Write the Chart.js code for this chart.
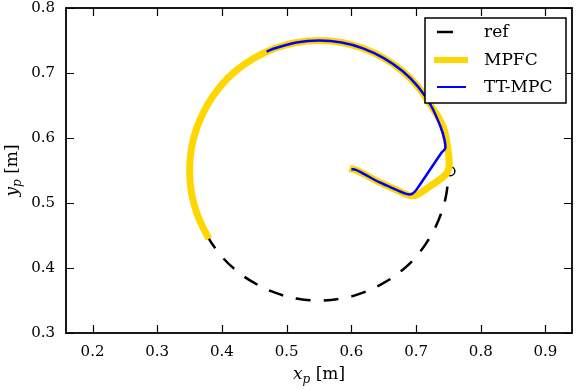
<!DOCTYPE html>
<html>
<head>
<meta charset="utf-8">
<script src="https://cdn.jsdelivr.net/npm/chart.js@4.4.0/dist/chart.umd.min.js"></script>
<style>
body { margin: 0; background: #fff; }
#wrap { width: 578px; height: 390px; }
</style>
</head>
<body>
<div id="wrap"><canvas id="traj"></canvas></div>
<script>
const xTicks = [0.2, 0.3, 0.4, 0.5, 0.6, 0.7, 0.8, 0.9];
const yTicks = [0.3, 0.4, 0.5, 0.6, 0.7, 0.8];
const labels = ['ref', 'MPFC', 'TT-MPC'];

// reference circle, read every 10 deg counter-clockwise from the start point
const refX = [0.750, 0.747, 0.738, 0.723, 0.703, 0.679, 0.650, 0.618, 0.585, 0.550, 0.515, 0.482, 0.450, 0.421, 0.397, 0.377, 0.362, 0.353, 0.350,
              0.353, 0.362, 0.377, 0.397, 0.421, 0.450, 0.482, 0.515, 0.550, 0.585, 0.618, 0.650, 0.679, 0.703, 0.723, 0.738, 0.747, 0.750];
const refY = [0.550, 0.585, 0.618, 0.650, 0.679, 0.703, 0.723, 0.738, 0.747, 0.750, 0.747, 0.738, 0.723, 0.703, 0.679, 0.650, 0.618, 0.585, 0.550,
              0.515, 0.482, 0.450, 0.421, 0.397, 0.377, 0.362, 0.353, 0.350, 0.353, 0.362, 0.377, 0.397, 0.421, 0.450, 0.482, 0.515, 0.550];

const mpfcX = [0.597, 0.606, 0.617, 0.643, 0.670, 0.688, 0.700, 0.722, 0.745, 0.751, 0.749, 0.742, 0.723, 0.703, 0.679, 0.650, 0.618, 0.585, 0.550,
               0.515, 0.482, 0.450, 0.421, 0.397, 0.377, 0.362, 0.353, 0.350, 0.353, 0.362, 0.377, 0.380];
const mpfcY = [0.553, 0.551, 0.546, 0.532, 0.520, 0.512, 0.512, 0.526, 0.543, 0.556, 0.584, 0.617, 0.650, 0.679, 0.703, 0.723, 0.738, 0.747, 0.750,
               0.747, 0.738, 0.723, 0.703, 0.679, 0.650, 0.618, 0.585, 0.550, 0.515, 0.482, 0.450, 0.445];

const ttX = [0.600, 0.607, 0.617, 0.643, 0.668, 0.685, 0.694, 0.701, 0.739, 0.745, 0.744, 0.738, 0.723, 0.703, 0.679, 0.650, 0.618, 0.585, 0.550, 0.515, 0.482, 0.469];
const ttY = [0.552, 0.551, 0.546, 0.532, 0.521, 0.514, 0.514, 0.521, 0.577, 0.584, 0.597, 0.617, 0.650, 0.679, 0.703, 0.723, 0.738, 0.747, 0.750, 0.747, 0.738, 0.733];

const startX = [0.753];
const startY = [0.549];

const toPts = (xs, ys) => xs.map((x, i) => ({ x: x, y: ys[i] }));
const SERIF = '"DejaVu Serif", "Liberation Serif", serif';

const frameTicks = {
    id: 'frameTicks',
    afterDatasetsDraw(chart) {
        const { ctx, chartArea: a, scales } = chart;
        ctx.save();
        ctx.strokeStyle = '#000';
        ctx.lineWidth = 1.2;
        ctx.beginPath();
        xTicks.forEach(v => {
            const px = Math.round(scales.x.getPixelForValue(v)) + 0.5;
            ctx.moveTo(px, a.bottom); ctx.lineTo(px, a.bottom - 8);
            ctx.moveTo(px, a.top); ctx.lineTo(px, a.top + 8);
        });
        yTicks.forEach(v => {
            const py = Math.round(scales.y.getPixelForValue(v)) + 0.5;
            ctx.moveTo(a.left, py); ctx.lineTo(a.left + 8, py);
            ctx.moveTo(a.right, py); ctx.lineTo(a.right - 8, py);
        });
        ctx.stroke();
        ctx.lineWidth = 1.8;
        ctx.strokeRect(a.left, a.top, a.right - a.left, a.bottom - a.top);
        ctx.restore();
    },
    afterDraw(chart) {
        const ctx = chart.ctx;
        const a = chart.chartArea;
        // legend box
        ctx.save();
        ctx.fillStyle = '#fff';
        ctx.fillRect(425, 18, 141, 85);
        ctx.strokeStyle = '#000';
        ctx.lineWidth = 1.5;
        ctx.strokeRect(425, 18, 141, 85);
        const rows = [32, 60, 87];
        const spans = [[437, 453], [434, 468], [437, 466]];
        const widths = [2.5, 6, 2];
        [0, 1, 2].forEach(i => {
            const ds = chart.data.datasets[i];
            ctx.beginPath();
            ctx.strokeStyle = ds.borderColor;
            ctx.lineWidth = widths[i];
            ctx.lineCap = 'butt';
            ctx.moveTo(spans[i][0], rows[i]);
            ctx.lineTo(spans[i][1], rows[i]);
            ctx.stroke();
            ctx.fillStyle = '#000';
            ctx.font = '17px ' + SERIF;
            ctx.textBaseline = 'middle';
            ctx.textAlign = 'left';
            ctx.fillText(ds.label, 484, rows[i] + 1);
        });
        // axis titles with subscript
        const drawTitle = (v) => {
            ctx.font = 'italic 17px ' + SERIF;
            const w1 = ctx.measureText(v).width;
            ctx.font = 'italic 12px ' + SERIF;
            const w2 = ctx.measureText('p').width;
            ctx.font = '17px ' + SERIF;
            const w3 = ctx.measureText(' [m]').width;
            let x = -(w1 + w2 + w3) / 2;
            ctx.textAlign = 'left';
            ctx.textBaseline = 'alphabetic';
            ctx.font = 'italic 17px ' + SERIF;
            ctx.fillText(v, x, 0);
            x += w1;
            ctx.font = 'italic 12px ' + SERIF;
            ctx.fillText('p', x, 4);
            x += w2;
            ctx.font = '17px ' + SERIF;
            ctx.fillText(' [m]', x, 0);
        };
        ctx.fillStyle = '#000';
        ctx.save();
        ctx.translate((a.left + a.right) / 2, 379);
        drawTitle('x');
        ctx.restore();
        ctx.save();
        ctx.translate(17, (a.top + a.bottom) / 2);
        ctx.rotate(-Math.PI / 2);
        drawTitle('y');
        ctx.restore();
        ctx.restore();
    }
};

new Chart(document.getElementById('traj').getContext('2d'), {
    type: 'scatter',
    data: {
        datasets: [{
            label: labels[0],
            data: toPts(refX, refY),
            showLine: true,
            borderColor: '#000',
            borderWidth: 2.5,
            borderDash: [15, 13],
            borderCapStyle: 'butt',
            pointRadius: 0,
            tension: 0.4,
            order: 4
        }, {
            label: labels[1],
            data: toPts(mpfcX, mpfcY),
            showLine: true,
            borderColor: '#FFD700',
            borderWidth: 7,
            borderCapStyle: 'butt',
            borderJoinStyle: 'round',
            pointRadius: 0,
            tension: 0.35,
            order: 2
        }, {
            label: labels[2],
            data: toPts(ttX, ttY),
            showLine: true,
            borderColor: '#0000FF',
            borderWidth: 2.5,
            borderCapStyle: 'butt',
            borderJoinStyle: 'round',
            pointRadius: 0,
            tension: 0.35,
            order: 1
        }, {
            label: 'start',
            data: toPts(startX, startY),
            showLine: false,
            pointRadius: 4.5,
            pointBorderWidth: 1.5,
            pointBorderColor: '#000',
            pointBackgroundColor: 'rgba(0,0,0,0)',
            order: 3
        }]
    },
    options: {
        responsive: true,
        maintainAspectRatio: false,
        animation: false,
        layout: { padding: { top: 8, right: 4, left: 0, bottom: 0 } },
        plugins: { legend: { display: false }, tooltip: { enabled: false } },
        scales: {
            x: {
                type: 'linear',
                min: 0.159,
                max: 0.941,
                grid: { display: false, drawTicks: false },
                border: { display: false },
                afterBuildTicks: s => { s.ticks = xTicks.map(v => ({ value: v })); },
                afterFit: s => { s.height = 57; s.paddingLeft = 0; s.paddingRight = 0; },
                ticks: {
                    padding: 10,
                    color: '#000',
                    font: { family: SERIF, size: 15 },
                    callback: v => v.toFixed(1)
                }
            },
            y: {
                type: 'linear',
                min: 0.3,
                max: 0.8,
                grid: { display: false, drawTicks: false },
                border: { display: false },
                afterBuildTicks: s => { s.ticks = yTicks.map(v => ({ value: v })); },
                afterFit: s => { s.width = 66; s.paddingTop = 0; s.paddingBottom = 0; },
                ticks: {
                    padding: 11,
                    color: '#000',
                    font: { family: SERIF, size: 15 },
                    callback: v => v.toFixed(1)
                }
            }
        }
    },
    plugins: [frameTicks]
});
</script>
</body>
</html>
